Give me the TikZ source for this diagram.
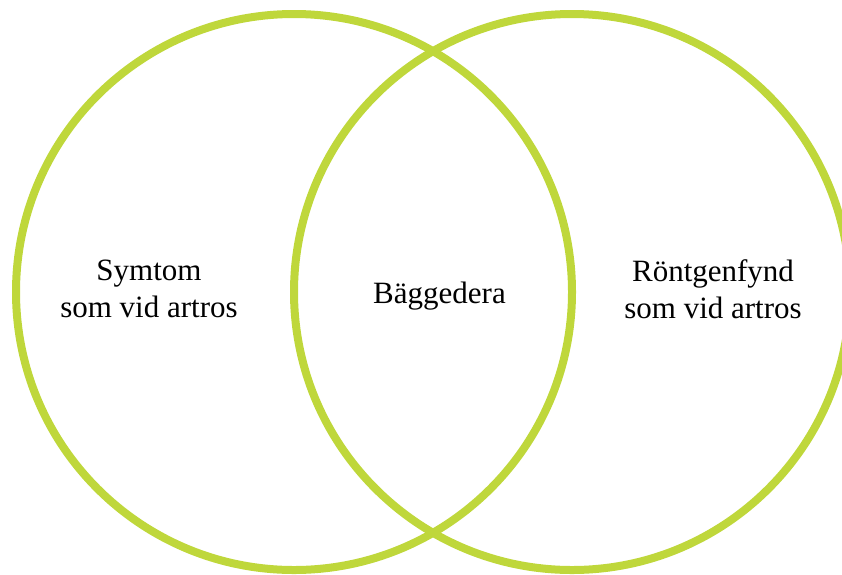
\documentclass[tikz,border=0pt]{standalone}
\usepackage{fontspec}
\setmainfont{Liberation Serif}
\usepackage{tikz}
\usetikzlibrary{positioning}
\definecolor{venngreen}{HTML}{BFD73B}

\begin{document}
\begin{tikzpicture}[x=1pt, y=-1pt,
  ring/.style={circle, draw=venngreen, line width=8pt, minimum size=556pt, inner sep=0pt},
  venntext/.style={align=center, font=\fontsize{31}{37}\selectfont, text=black}
]
  \useasboundingbox (0,0) rectangle (842,574);
  \clip (0,0) rectangle (842,574);
  \node[ring] (symptom) at (294,292) {};
  \node[ring] (xray) at (572,292) {};

  \node[venntext] (symptomtext) at (149,289) {Symtom\\som vid artros};
  \node[venntext, anchor=base] (bothtext) at (439.5,303) {Bäggedera};
  \node[venntext] (xraytext) at (713,289) {Röntgenfynd\\som vid artros};
\end{tikzpicture}
\end{document}
